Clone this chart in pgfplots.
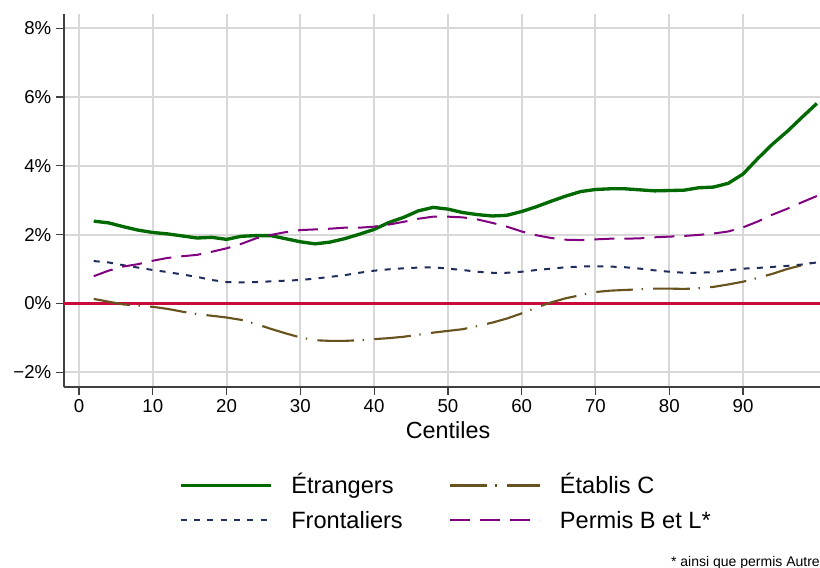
\documentclass[border=0pt]{standalone}
\usepackage{fontspec}
\setmainfont{Liberation Sans}
\usepackage{pgfplots}
\pgfplotsset{compat=1.18}
\definecolor{cgreen}{RGB}{0,105,0}
\definecolor{cbrown}{RGB}{104,83,30}
\definecolor{cnavy}{RGB}{30,45,90}
\definecolor{cpurple}{RGB}{128,0,128}
\definecolor{cred}{RGB}{200,10,60}
\definecolor{cgrid}{RGB}{216,216,216}
\definecolor{caxis}{RGB}{64,64,64}
\begin{document}
\begin{tikzpicture}
\useasboundingbox (-48pt,-135pt) rectangle (567pt,290.25pt);
\begin{axis}[at={(0,0)}, anchor=south west, scale only axis,
  width=567pt, height=279.75pt,
  xmin=-2.03, xmax=100.43, ymin=-2.43, ymax=8.41,
  axis x line*=bottom, axis y line*=left,
  axis line style={draw=caxis, line width=0.9pt, -},
  xtick={0,10,...,90}, xticklabels={0,10,20,30,40,50,60,70,80,90},
  ytick={-2,0,2,4,6,8}, yticklabels={−2\%,0\%,2\%,4\%,6\%,8\%},
  tick align=outside, major tick length=6pt,
  tick style={draw=caxis, line width=0.9pt},
  grid=major, major grid style={draw=cgrid, line width=1.5pt},
  tick label style={font=\fontsize{14}{16}\selectfont},
  xlabel={Centiles},
  xlabel style={at={(axis description cs:0.508,0)}, anchor=base, yshift=-38.25pt, font=\fontsize{17.5}{20}\selectfont},
  legend columns=2,
  legend cell align=left,
  legend style={at={(axis description cs:0.1521,-0.2413)}, anchor=north west,
    draw=none, fill=none, inner sep=0pt, outer sep=0pt, row sep=13.55pt,
    font=\fontsize{17.7}{20}\selectfont,
    nodes={inner sep=0pt, text height=12.7pt, text depth=0pt},
    cells={anchor=west},
    /tikz/every odd column/.style={column sep=14.25pt},
    /tikz/every even column/.style={column sep=34.5pt}},
  legend image code/.code={\draw[#1] (0pt,0pt) -- (67.5pt,0pt);},
]
\addplot[cred, line width=1.75pt, forget plot] coordinates {(-2.03,0) (100.43,0)};
\addplot[cgreen, line width=2.5pt] coordinates {
(2,2.39) (4,2.34) (6,2.23) (8,2.13) (10,2.06) (12,2.02) (14,1.96) (16,1.90) (18,1.92) (20,1.86)
(22,1.95) (24,1.97) (26,1.97) (28,1.88) (30,1.79) (32,1.73) (34,1.78) (36,1.88) (38,2.01) (40,2.15)
(42,2.35) (44,2.50) (46,2.69) (48,2.79) (50,2.74) (52,2.64) (54,2.58) (56,2.54) (58,2.56) (60,2.67)
(62,2.81) (64,2.97) (66,3.12) (68,3.25) (70,3.31) (72,3.33) (74,3.33) (76,3.30) (78,3.27) (80,3.28)
(82,3.29) (84,3.36) (86,3.38) (88,3.49) (90,3.76) (92,4.21) (94,4.63) (96,5.00) (98,5.41) (100,5.81)};
\addlegendentry{Étrangers}
\addplot[cbrown, line width=1.6pt, dash pattern=on 27.5pt off 6.5pt on 1pt off 7.75pt] coordinates {
(2,0.13) (4,0.05) (6,-0.03) (8,-0.06) (10,-0.10) (12,-0.16) (14,-0.24) (16,-0.31) (18,-0.36) (20,-0.41)
(22,-0.48) (24,-0.60) (26,-0.74) (28,-0.87) (30,-0.99) (32,-1.07) (34,-1.09) (36,-1.09) (38,-1.07) (40,-1.04)
(42,-1.01) (44,-0.97) (46,-0.91) (48,-0.85) (50,-0.80) (52,-0.75) (54,-0.66) (56,-0.56) (58,-0.44) (60,-0.29)
(62,-0.12) (64,0.03) (66,0.15) (68,0.24) (70,0.33) (72,0.37) (74,0.39) (76,0.41) (78,0.43) (80,0.43)
(82,0.42) (84,0.44) (86,0.48) (88,0.55) (90,0.63) (92,0.74) (94,0.86) (96,1.00) (98,1.11) (100,1.22)};
\addlegendentry{Établis C}
\addplot[cnavy, line width=1.5pt, dash pattern=on 4.5pt off 5.5pt] coordinates {
(2,1.23) (4,1.19) (6,1.11) (8,1.04) (10,0.97) (12,0.91) (14,0.84) (16,0.77) (18,0.68) (20,0.62)
(22,0.61) (24,0.62) (26,0.64) (28,0.66) (30,0.68) (32,0.72) (34,0.77) (36,0.82) (38,0.89) (40,0.95)
(42,0.99) (44,1.02) (46,1.04) (48,1.05) (50,1.01) (52,0.97) (54,0.92) (56,0.89) (58,0.89) (60,0.92)
(62,0.97) (64,1.01) (66,1.05) (68,1.07) (70,1.08) (72,1.07) (74,1.05) (76,1.01) (78,0.96) (80,0.92)
(82,0.89) (84,0.89) (86,0.91) (88,0.96) (90,1.01) (92,1.03) (94,1.06) (96,1.09) (98,1.13) (100,1.19)};
\addlegendentry{Frontaliers}
\addplot[cpurple, line width=1.5pt, dash pattern=on 15pt off 7.5pt] coordinates {
(2,0.79) (4,0.95) (6,1.07) (8,1.14) (10,1.24) (12,1.32) (14,1.37) (16,1.41) (18,1.50) (20,1.60)
(22,1.73) (24,1.89) (26,1.99) (28,2.07) (30,2.13) (32,2.15) (34,2.17) (36,2.20) (38,2.20) (40,2.23)
(42,2.29) (44,2.37) (46,2.46) (48,2.52) (50,2.52) (52,2.50) (54,2.44) (56,2.34) (58,2.23) (60,2.09)
(62,1.98) (64,1.90) (66,1.85) (68,1.84) (70,1.86) (72,1.88) (74,1.88) (76,1.89) (78,1.92) (80,1.94)
(82,1.96) (84,1.99) (86,2.03) (88,2.09) (90,2.21) (92,2.38) (94,2.58) (96,2.75) (98,2.94) (100,3.12)};
\addlegendentry{Permis B et L*}
\end{axis}
\node[anchor=base east, inner sep=0pt, font=\fontsize{10.5}{12}\selectfont] at (567pt,-134.25pt) {* ainsi que permis Autre};
\end{tikzpicture}
\end{document}
